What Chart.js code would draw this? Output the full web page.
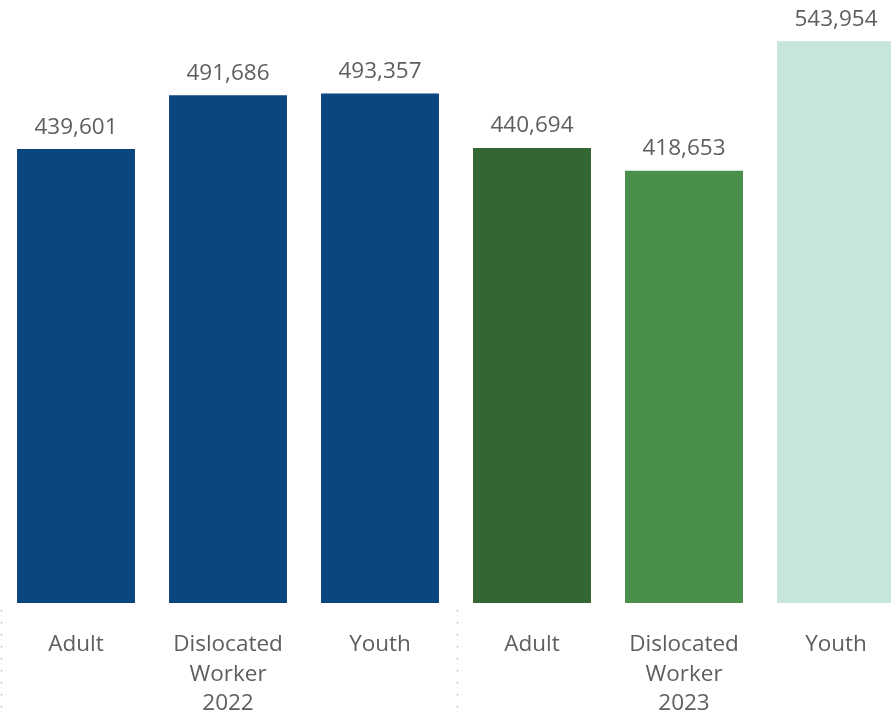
<!DOCTYPE html>
<html>
<head>
<meta charset="utf-8">
<title>WIOA Funding by Program</title>
<script src="https://cdn.jsdelivr.net/npm/chart.js@4"></script>
<style>
  html, body { margin: 0; padding: 0; background: #fff; overflow: hidden; }
  #wrap { width: 912px; height: 718px; }
</style>
</head>
<body>
<div id="wrap"><canvas id="chartFunding" width="912" height="718"></canvas></div>
<script>
// Program amounts per year (2022 first, then 2023)
const programs = [['Adult'], ['Dislocated', 'Worker'], ['Youth'], ['Adult'], ['Dislocated', 'Worker'], ['Youth']];
const years = ['2022', '2023'];
const amounts = [439601, 491686, 493357, 440694, 418653, 543954];
const barColors = ['#0a4680', '#0a4680', '#0a4680', '#336633', '#4a8f4a', '#c6e6dc'];

const textColor = '#5e5e5e';
const fontFamily = '"Open Sans", "Noto Sans", sans-serif';

// writes the value above each bar
const valueLabels = {
    id: 'valueLabels',
    afterDatasetsDraw(chart) {
        const ctx = chart.ctx;
        const meta = chart.getDatasetMeta(0);
        ctx.save();
        ctx.font = '22.5px ' + fontFamily;
        ctx.fillStyle = textColor;
        ctx.textAlign = 'center';
        ctx.textBaseline = 'middle';
        meta.data.forEach((bar, i) => {
            ctx.fillText(amounts[i].toLocaleString('en-US'), bar.x, bar.y - 22);
        });
        ctx.restore();
    }
};

// year captions and dotted dividers between the year groups
const yearGroups = {
    id: 'yearGroups',
    afterDraw(chart) {
        const ctx = chart.ctx;
        const x = chart.scales.x;
        const step = x.getPixelForTick(1) - x.getPixelForTick(0);
        ctx.save();
        ctx.font = '22.5px ' + fontFamily;
        ctx.fillStyle = textColor;
        ctx.textAlign = 'center';
        ctx.textBaseline = 'middle';
        years.forEach((year, g) => {
            ctx.fillText(year, x.getPixelForTick(g * 3 + 1), 704);
            const edge = Math.round(x.getPixelForTick(g * 3) - step / 2) + 1.5;
            ctx.strokeStyle = '#b8b8b8';
            ctx.lineWidth = 1.5;
            ctx.setLineDash([1.5, 10.5]);
            ctx.beginPath();
            ctx.moveTo(edge, 610);
            ctx.lineTo(edge, 718);
            ctx.stroke();
        });
        ctx.restore();
    }
};

const ctxFunding = document.getElementById('chartFunding').getContext('2d');
const chartFunding = new Chart(ctxFunding, {
    type: 'bar',
    data: {
        labels: programs,
        datasets: [{
            data: amounts,
            backgroundColor: barColors,
            borderWidth: 0,
            categoryPercentage: 1,
            barPercentage: 0.776
        }]
    },
    options: {
        responsive: false,
        animation: false,
        layout: { padding: 0 },
        plugins: {
            legend: { display: false },
            tooltip: { enabled: false }
        },
        scales: {
            x: {
                grid: { display: false },
                border: { display: false },
                ticks: {
                    color: textColor,
                    font: { family: fontFamily, size: 22.5, lineHeight: 1.333 },
                    padding: 19,
                    maxRotation: 0,
                    autoSkip: false
                },
                afterFit(scale) { scale.height = 115; }
            },
            y: {
                display: false,
                min: 0,
                max: 584000
            }
        }
    },
    plugins: [valueLabels, yearGroups]
});
</script>
</body>
</html>
